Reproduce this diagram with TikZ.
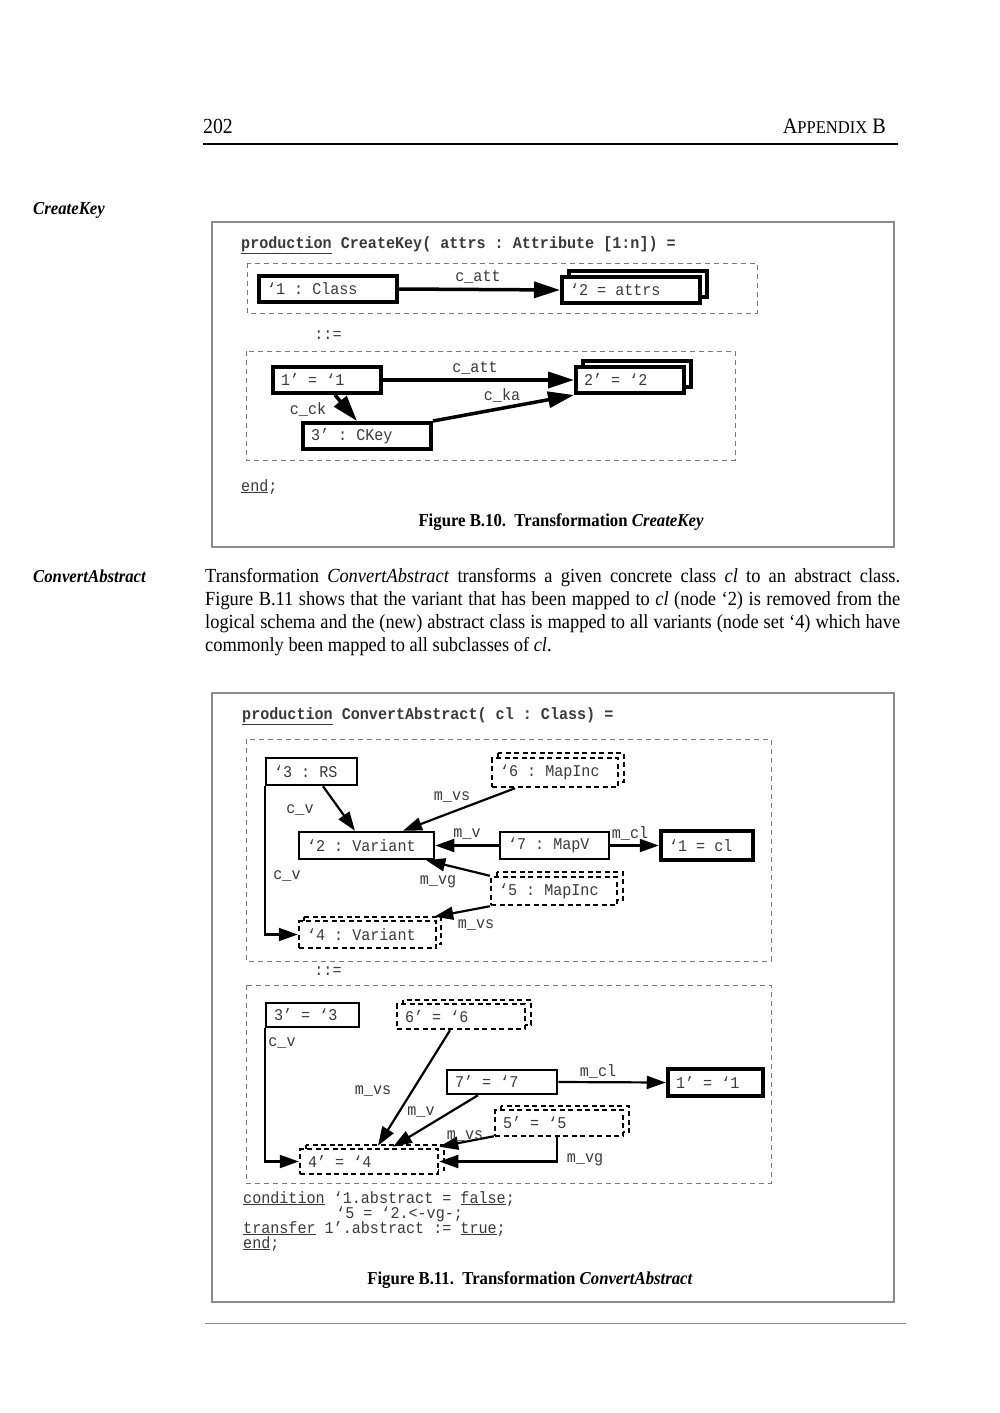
\documentclass[tikz,border=0pt]{standalone}
\usepackage{fontspec}
\setmainfont{Liberation Serif}[FakeStretch=0.92]
\setmonofont{Liberation Mono}[FakeStretch=0.92]
\usetikzlibrary{arrows.meta}
\definecolor{frm}{HTML}{8C8C8C}
\definecolor{grp}{HTML}{7A7A7A}
\definecolor{txt}{HTML}{3A3A3A}
\newcommand\mono{\fontsize{16.4}{16.4}\selectfont\ttfamily}
\newcommand\bodyfs{\fontsize{20}{23}\selectfont}
\newcommand\mkbox[7]{%
  \pgfmathsetmacro\mkbW{#5-#3}%
  \pgfmathsetmacro\mkbH{#6-#4}%
  \pgfmathsetmacro\mkbT{#5-#3-16}%
  \node[#2, minimum width=\mkbW pt, minimum height=\mkbH pt] (#1) at ({(#3+#5)/2},{(#4+#6)/2}) {\makebox[\mkbT pt][l]{#7}};}
\newcommand\mkstack[9]{%
  \path[#2] (#3+#8,#4-#9) rectangle (#5+#8,#6-#9);%
  \mkbox{#1}{#2}{#3}{#4}{#5}{#6}{#7}}
\tikzset{
  nb/.style={draw, fill=white, inner xsep=8pt, inner ysep=0pt, font=\mono, text=txt},
  tb/.style={nb, line width=4pt},
  sb/.style={nb, line width=2.5pt},
  xb/.style={nb, line width=4.5pt},
  db/.style={nb, line width=2.5pt, dash pattern=on 5pt off 3.5pt},
  grpbox/.style={draw=grp, line width=1pt, dash pattern=on 5pt off 4pt},
  frame/.style={draw=frm, line width=2pt},
  ea/.style={line width=3.5pt, -{Triangle[length=26pt,width=16pt]}},
  eb/.style={line width=2.2pt, -{Triangle[length=19pt,width=13pt]}},
  lbl/.style={font=\mono, text=txt, inner sep=0pt},
  code/.style={font=\mono, text=txt, inner sep=0pt, anchor=base west},
}
\begin{document}
\begin{tikzpicture}[x=1pt,y=-1pt]
\fill[white] (0,0) rectangle (1000,1413);
\useasboundingbox (0,0) rectangle (1000,1413);

% header
\node[anchor=base west, inner sep=0, font=\fontsize{21.5}{21.5}\selectfont] (pg) at (203,133) {202};
\node[anchor=base east, inner sep=0] (hd) at (886,133) {{\fontsize{22}{22}\selectfont A}{\fontsize{18}{18}\selectfont PPENDIX}\hspace{5pt}{\fontsize{22}{22}\selectfont B}};
\draw[line width=1.5pt] (203,144) -- (898,144);

% margin labels
\node[anchor=base west, inner sep=0, font=\fontsize{18.2}{18}\selectfont\bfseries\itshape] (ml1) at (33,214) {CreateKey};
\node[anchor=base west, inner sep=0, font=\fontsize{18.2}{18}\selectfont\bfseries\itshape] (ml2) at (33,582) {ConvertAbstract};

% ---------- Figure B.10 ----------
\draw[frame] (212,222) rectangle (894,547);
\node[code, font=\mono\bfseries] (prod1) at (241,248) {\underline{production} CreateKey( attrs : Attribute [1:n]) =};
\draw[grpbox] (247,263) rectangle (757,313);
\mkbox{c1}{tb}{259}{276}{397}{302}{‘1 : Class}
\mkstack{c2}{tb}{562}{277}{700}{303}{‘2 = attrs}{7}{6}
\draw[ea] (c1.east) -- (c2.west);
\node[lbl] (l1) at (478,277) {c\_att};

\node[lbl] (def1) at (328,335) {::=};

\draw[grpbox] (246,351) rectangle (735,460);
\mkbox{k1}{tb}{273}{367}{381}{393}{1’ = ‘1}
\mkstack{k2}{tb}{576}{367}{684}{393}{2’ = ‘2}{7}{6}
\mkbox{k3}{tb}{303}{423}{431}{449}{3’ : CKey}
\draw[ea] (k1.east) -- (k2.west);
\draw[ea] ([xshift=8pt]k1.south) -- ([xshift=-10pt]k3.north);
\draw[ea] (k3.north east) -- (k2.south west);
\node[lbl] (l2) at (475,368) {c\_att};
\node[lbl] (l3) at (502,395) {c\_ka};
\node[lbl] (l4) at (308,409) {c\_ck};

\node[code] (end1) at (241,491) {\underline{end};};
\node[anchor=base, inner sep=0, font=\fontsize{18.2}{18}\selectfont\bfseries] (cap1) at (561,526) {Figure B.10.\ \ Transformation \textit{CreateKey}};

% ---------- body text ----------
\node[anchor=base west, inner sep=0, font=\bodyfs] (t1) at (205,582) {\makebox[695pt][s]{Transformation \textit{ConvertAbstract} transforms a given concrete class \textit{cl} to an abstract class.}};
\node[anchor=base west, inner sep=0, font=\bodyfs] (t2) at (205,605) {\makebox[695pt][s]{Figure B.11 shows that the variant that has been mapped to \textit{cl} (node ‘2) is removed from the}};
\node[anchor=base west, inner sep=0, font=\bodyfs] (t3) at (205,628) {\makebox[695pt][s]{logical schema and the (new) abstract class is mapped to all variants (node set ‘4) which have}};
\node[anchor=base west, inner sep=0, font=\bodyfs] (t4) at (205,651) {commonly been mapped to all subclasses of \textit{cl}.};

% ---------- Figure B.11 ----------
\draw[frame] (212,693) rectangle (894,1302);
\node[code, font=\mono\bfseries] (prod2) at (242,719) {\underline{production} ConvertAbstract( cl : Class) =};

\draw[grpbox] (246,739) rectangle (771,961);
\mkbox{n3}{sb}{266}{758}{357}{785}{‘3 : RS}
\mkstack{n6}{db}{492}{758}{618}{787}{‘6 : MapInc}{6}{5}
\mkbox{n2}{sb}{299}{832}{434}{859}{‘2 : Variant}
\mkbox{n7}{sb}{500}{832}{609}{859}{‘7 : MapV}
\mkbox{n1}{xb}{661}{831}{753}{860}{‘1 = cl}
\mkstack{n5}{db}{491}{877}{617}{905}{‘5 : MapInc}{6}{5}
\mkstack{n4}{db}{299}{921}{436}{948}{‘4 : Variant}{5}{4}

\draw[eb] ([xshift=11.5pt]n3.south) -- ([xshift=-11.5pt]n2.north);
\draw[eb] ([xshift=-40pt]n6.south) -- ([xshift=36.5pt]n2.north);
\draw[eb] (n7.west) -- (n2.east);
\draw[eb] (n7.east) -- (n1.west);
\draw[eb] (n5.north west) -- ([xshift=-9pt]n2.south east);
\draw[eb] (n5.south west) -- ([xshift=-3pt,yshift=3pt]n4.north east);
\draw[eb] (n3.south west) |- (n4.west);
\node[lbl] (a1) at (300,810) {c\_v};
\node[lbl] (a2) at (452,797) {m\_vs};
\node[lbl] (a3) at (467,834) {m\_v};
\node[lbl] (a4) at (630,833) {m\_cl};
\node[lbl] (a5) at (438,882) {m\_vg};
\node[lbl] (a6) at (476,925) {m\_vs};
\node[lbl] (a7) at (287,876) {c\_v};

\node[lbl] (def2) at (328,971) {::=};

\draw[grpbox] (246,985) rectangle (771,1183);
\mkbox{p3}{sb}{266}{1003}{359}{1027}{3’ = ‘3}
\mkstack{p6}{db}{397}{1004}{525}{1029}{6’ = ‘6}{6}{4}
\mkbox{p7}{sb}{447}{1070}{557}{1094}{7’ = ‘7}
\mkbox{p1}{xb}{668}{1069}{763}{1096}{1’ = ‘1}
\mkstack{p5}{db}{495}{1110}{623}{1136}{5’ = ‘5}{6}{4}
\mkstack{p4}{db}{300}{1149}{438}{1174}{4’ = ‘4}{6}{4}

\draw[eb] (p3.south west) |- (p4.west);
\draw[eb] ([xshift=-11pt]p6.south) -- ([xshift=9pt,yshift=2pt]p4.north);
\draw[eb] ([xshift=-24pt]p7.south) -- ([xshift=24pt,yshift=1pt]p4.north);
\draw[eb] ([yshift=1pt]p5.south west) -- ([yshift=1pt]p4.north east);
\draw[eb] (p7.east) -- (p1.west);
\draw[eb] ([xshift=-2pt]p5.south) |- (p4.east);
\node[lbl] (b1) at (282,1043) {c\_v};
\node[lbl] (b2) at (373,1091) {m\_vs};
\node[lbl, fill=white, inner sep=1pt] (b3) at (421,1112) {m\_v};
\node[lbl] (b4) at (465,1136) {m\_vs};
\node[lbl] (b5) at (598,1071) {m\_cl};
\node[lbl] (b6) at (585,1160) {m\_vg};

\node[code] (cd1) at (243,1203) {\underline{condition} ‘1.abstract = \underline{false};};
\node[code] (cd2) at (336,1218) {‘5 = ‘2.<-vg-;};
\node[code] (cd3) at (243,1233) {\underline{transfer} 1’.abstract := \underline{true};};
\node[code] (cd4) at (243,1248) {\underline{end};};

\node[anchor=base, inner sep=0, font=\fontsize{18.2}{18}\selectfont\bfseries] (cap2) at (530,1284) {Figure B.11.\ \ Transformation \textit{ConvertAbstract}};

\draw[frm, line width=1pt] (205,1323) -- (906,1323);
\end{tikzpicture}
\end{document}
